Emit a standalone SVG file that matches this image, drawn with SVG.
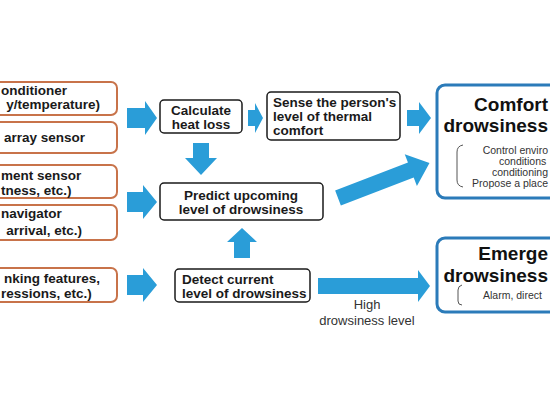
<svg xmlns="http://www.w3.org/2000/svg" width="550" height="412" viewBox="0 0 550 412">
<style>
.in{fill:#fff;stroke:#c8734a;stroke-width:2}
.nd{fill:#fff;stroke:#1a1a1a;stroke-width:1.5}
.out{fill:#fff;stroke:#2b7bb9;stroke-width:3}
.ar{fill:#2a9dd8}
.t{font-family:"Liberation Sans",Arial,sans-serif;font-weight:bold;font-size:13.5px;fill:#1a1a1a}
.big{font-family:"Liberation Sans",Arial,sans-serif;font-weight:bold;font-size:19px;fill:#111}
.sm{font-family:"Liberation Sans",Arial,sans-serif;font-size:10.5px;fill:#333}
.lbl{font-family:"Liberation Sans",Arial,sans-serif;font-size:13px;fill:#333}
.br{fill:none;stroke:#555;stroke-width:1}
</style>
<rect width="550" height="412" fill="#fff"/>
<g id="in1"><rect class="in" x="-20" y="82" width="137" height="33" rx="6"/><text class="t" x="1" y="95">onditioner</text><text class="t" text-anchor="end" x="100" y="109">y/temperature)</text></g>
<g id="in2"><rect class="in" x="-20" y="122" width="137" height="31" rx="6"/><text class="t" text-anchor="end" x="85" y="142">array sensor</text></g>
<g id="in3"><rect class="in" x="-20" y="165" width="137" height="33" rx="6"/><text class="t" x="1" y="180">ment sensor</text><text class="t" x="1" y="195">tness, etc.)</text></g>
<g id="in4"><rect class="in" x="-20" y="205" width="137" height="35" rx="6"/><text class="t" x="1" y="218">navigator</text><text class="t" text-anchor="end" x="82" y="235">arrival, etc.)</text></g>
<g id="in5"><rect class="in" x="-20" y="268" width="137" height="34" rx="6"/><text class="t" text-anchor="end" x="100" y="283">nking features,</text><text class="t" x="1" y="298">ressions, etc.)</text></g>
<g id="calc"><rect class="nd" x="160" y="100" width="82" height="33" rx="4"/><text class="t" text-anchor="middle" x="201" y="115">Calculate</text><text class="t" text-anchor="middle" x="201" y="129">heat loss</text></g>
<g id="sense"><rect class="nd" x="267" y="92" width="133" height="48" rx="4"/><text class="t" x="273" y="106.5">Sense the person's</text><text class="t" x="273" y="120.5">level of thermal</text><text class="t" x="273" y="134.5">comfort</text></g>
<g id="predict"><rect class="nd" x="160" y="183" width="163" height="37" rx="4"/><text class="t" text-anchor="middle" x="241" y="200">Predict upcoming</text><text class="t" text-anchor="middle" x="241" y="214">level of drowsiness</text></g>
<g id="detect"><rect class="nd" x="175" y="269" width="135" height="33" rx="4"/><text class="t" x="182" y="284">Detect current</text><text class="t" x="182" y="298">level of drowsiness</text></g>
<g id="comfort"><rect class="out" x="437" y="85" width="160" height="113" rx="8"/><text class="big" text-anchor="end" x="548" y="110.5">Comfort</text><text class="big" text-anchor="end" x="548" y="132">drowsiness</text><path class="br" d="M463,145 Q457,146 457,152 L457,180 Q457,186 463,187"/><text class="sm" text-anchor="end" x="548" y="154">Control enviro</text><text class="sm" x="499" y="165">conditions</text><text class="sm" text-anchor="end" x="548" y="176">conditioning</text><text class="sm" text-anchor="end" x="548" y="187">Propose a place</text></g>
<g id="emergency"><rect class="out" x="437" y="238" width="160" height="74" rx="8"/><text class="big" text-anchor="end" x="548" y="260">Emerge</text><text class="big" text-anchor="end" x="548" y="282">drowsiness</text><path class="br" d="M462,285 Q458,286 458,290 L458,301 Q458,305 462,305"/><text class="sm" x="483" y="299">Alarm, direct</text></g>
<g id="connectors">
<polygon class="ar" points="127,108 145,108 145,101 157,118 145,135 145,128 127,128"/>
<polygon class="ar" points="127,192 143,192 143,185 157,202 143,219 143,212 127,212"/>
<polygon class="ar" points="127,275 143,275 143,268 157,285 143,302 143,295 127,295"/>
<polygon class="ar" points="248,110 255,110 255,103 263,118 255,133 255,126 248,126"/>
<polygon class="ar" points="407,110 419,110 419,102 431,118 419,134 419,126 407,126"/>
<polygon class="ar" points="318,278 418,278 418,270 430,286 418,302 418,294 318,294"/>
<polygon class="ar" points="193,143 209,143 209,158 217,158 201,175 185,158 193,158"/>
<polygon class="ar" points="227,242 242,228 257,242 250,242 250,258 234,258 234,242"/>
<polygon class="ar" transform="translate(338,198) rotate(-21)" points="0,-8 78,-8 78,-17 98,0 78,17 78,8 0,8"/>
<text class="lbl" text-anchor="middle" x="367" y="309">High</text>
<text class="lbl" text-anchor="middle" x="367" y="325">drowsiness level</text>
</g>
</svg>
